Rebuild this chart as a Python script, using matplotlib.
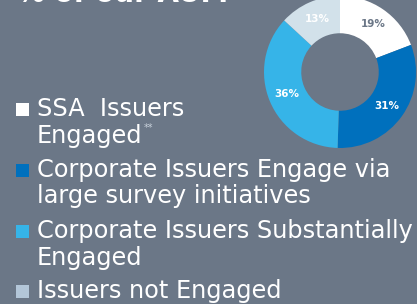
import matplotlib
matplotlib.use("Agg")
import matplotlib.pyplot as plt

title = "% of our AUM"
values = [19, 31, 36, 13]
pct_labels = ["19%", "31%", "36%", "13%"]
wedge_colors = ["#ffffff", "#0070bd", "#36b4e8", "#d2e1ea"]
pct_colors = ["#6b7787", "#ffffff", "#ffffff", "#ffffff"]
legend_lines = [["SSA  Issuers", "Engaged"],
                ["Corporate Issuers Engage via", "large survey initiatives"],
                ["Corporate Issuers Substantially", "Engaged"],
                ["Issuers not Engaged"]]
legend_notes = ["**", "", "", ""]
legend_colors = ["#ffffff", "#0070bd", "#36b4e8", "#b3c6d8"]

BG = "#6b7787"
W, H = 417, 304
fig = plt.figure(figsize=(W / 100, H / 100), dpi=100, facecolor=BG)

ax = fig.add_axes([0, 0, 1, 1])
ax.set_xlim(0, W)
ax.set_ylim(H, 0)
ax.axis("off")
ax.set_facecolor(BG)

# title (cut off at top, as in the reference)
ax.text(17, 1.5, title, fontsize=20, fontweight="bold", color="white",
        ha="left", va="baseline", family="DejaVu Sans")

# donut
cx, cy, r = 340, 72, 76
pax = fig.add_axes([(cx - r) / W, (H - cy - r) / H, 2 * r / W, 2 * r / H])
wedges, texts = pax.pie(values, colors=wedge_colors, startangle=90, counterclock=False,
                        normalize=True, labels=pct_labels, labeldistance=0.76,
                        wedgeprops=dict(width=0.49, edgecolor="none"),
                        textprops=dict(fontsize=7.5, fontweight="bold", family="DejaVu Sans"))
for t, c in zip(texts, pct_colors):
    t.set_color(c)
    t.set_ha("center")
    t.set_va("center")
pax.set_xlim(-1, 1)
pax.set_ylim(-1, 1)
pax.set_aspect("equal")
pax.axis("off")

# legend
first_baselines = [116, 177, 238, 298]
line_gap = 26.5
for lines, note, col, yb in zip(legend_lines, legend_notes, legend_colors, first_baselines):
    ax.add_patch(plt.Rectangle((16, yb - 13.5), 13.5, 13.5, facecolor=col, edgecolor="none"))
    for i, s in enumerate(lines):
        t = ax.text(37, yb + i * line_gap, s, fontsize=17.3, color="white",
                    ha="left", va="baseline", family="DejaVu Sans")
    if note:
        fig.canvas.draw()
        bb = t.get_window_extent()
        ax.text(bb.x1 + 1, yb + (len(lines) - 1) * line_gap - 12, note, fontsize=7,
                color="#c9d2dc", ha="left", va="baseline", family="DejaVu Sans")

fig.savefig("out.png", dpi=100, facecolor=BG)
